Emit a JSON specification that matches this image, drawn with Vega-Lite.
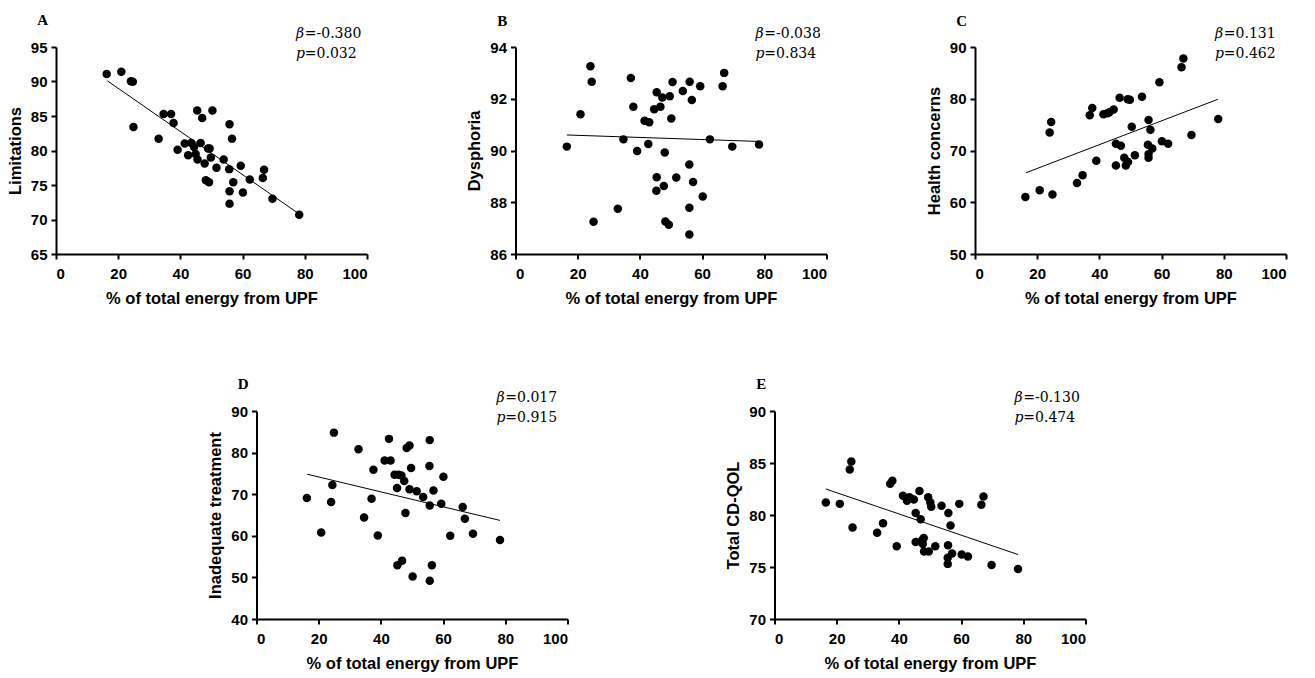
{
  "$schema": "https://vega.github.io/schema/vega-lite/v6.json",
  "padding": {"left": 7, "top": 13, "right": 5, "bottom": 5},
  "background": "white",
  "config": {
    "view": {"stroke": null},
    "axis": {"grid": false, "domainColor": "black", "domainWidth": 2, "tickColor": "black", "tickWidth": 2, "tickSize": 5, "labelOverlap": false, "format": "d",
      "labelFont": "Liberation Sans", "labelFontWeight": "bold", "labelFontSize": 15, "labelColor": "black",
      "titleFont": "Liberation Sans", "titleFontWeight": "bold", "titleFontSize": 16.5, "titleColor": "black"},
    "axisX": {"labelPadding": 7, "titlePadding": 9},
    "axisY": {"labelPadding": 4, "titlePadding": 7},
    "text": {"color": "black"}
  },
  "datasets": {
    "A": [{"x":16.3,"y":91.1},{"x":21.0,"y":91.4},{"x":24.1,"y":90.05},{"x":24.7,"y":89.95},{"x":24.9,"y":83.4},{"x":33.0,"y":81.7},{"x":34.6,"y":85.3},{"x":37.0,"y":85.3},{"x":37.8,"y":84.0},{"x":39.1,"y":80.1},{"x":41.4,"y":81.0},{"x":42.5,"y":79.3},{"x":43.5,"y":81.1},{"x":44.4,"y":80.5},{"x":44.9,"y":79.5},{"x":45.4,"y":85.8},{"x":45.5,"y":78.7},{"x":46.5,"y":81.1},{"x":47.0,"y":84.7},{"x":47.8,"y":78.1},{"x":48.2,"y":75.7},{"x":48.9,"y":80.3},{"x":49.2,"y":75.4},{"x":49.4,"y":80.3},{"x":49.8,"y":79.0},{"x":50.3,"y":85.8},{"x":51.6,"y":77.5},{"x":53.9,"y":78.7},{"x":55.7,"y":77.3},{"x":55.8,"y":83.8},{"x":55.8,"y":74.1},{"x":55.8,"y":72.3},{"x":56.6,"y":81.7},{"x":57.0,"y":75.4},{"x":59.4,"y":77.8},{"x":60.1,"y":73.9},{"x":62.3,"y":75.8},{"x":66.5,"y":76.0},{"x":66.9,"y":77.2},{"x":69.6,"y":73.0},{"x":78.2,"y":70.7}],
    "B": [{"x":16.5,"y":90.15},{"x":20.9,"y":91.4},{"x":24.1,"y":93.26},{"x":24.5,"y":92.66},{"x":25.1,"y":87.25},{"x":32.9,"y":87.75},{"x":34.7,"y":90.43},{"x":37.1,"y":92.8},{"x":37.9,"y":91.69},{"x":39.1,"y":89.98},{"x":41.5,"y":91.15},{"x":43.0,"y":91.09},{"x":42.7,"y":90.25},{"x":44.6,"y":91.59},{"x":45.4,"y":92.25},{"x":45.4,"y":88.97},{"x":45.3,"y":88.44},{"x":46.6,"y":91.69},{"x":47.2,"y":92.05},{"x":48.0,"y":89.92},{"x":47.7,"y":88.63},{"x":48.2,"y":87.26},{"x":49.3,"y":87.13},{"x":49.6,"y":92.1},{"x":50.1,"y":91.24},{"x":50.5,"y":92.65},{"x":51.7,"y":88.96},{"x":53.8,"y":92.3},{"x":56.0,"y":92.66},{"x":56.7,"y":91.95},{"x":55.9,"y":89.46},{"x":57.1,"y":88.78},{"x":55.9,"y":87.79},{"x":55.9,"y":86.75},{"x":59.4,"y":92.48},{"x":60.2,"y":88.22},{"x":62.5,"y":90.43},{"x":66.6,"y":92.48},{"x":67.1,"y":93.0},{"x":69.7,"y":90.15},{"x":78.3,"y":90.23}],
    "C": [{"x":16.2,"y":61.0},{"x":20.8,"y":62.3},{"x":24.0,"y":73.5},{"x":24.5,"y":75.5},{"x":24.9,"y":61.5},{"x":32.8,"y":63.7},{"x":34.6,"y":65.2},{"x":36.9,"y":76.8},{"x":37.7,"y":78.2},{"x":39.0,"y":68.0},{"x":41.3,"y":77.0},{"x":42.6,"y":77.2},{"x":43.2,"y":77.4},{"x":44.6,"y":77.9},{"x":45.3,"y":71.3},{"x":45.3,"y":67.1},{"x":46.5,"y":80.2},{"x":46.9,"y":70.9},{"x":48.0,"y":68.6},{"x":48.5,"y":67.1},{"x":49.2,"y":67.8},{"x":49.1,"y":79.9},{"x":49.8,"y":79.8},{"x":50.4,"y":74.6},{"x":51.4,"y":69.1},{"x":53.7,"y":80.4},{"x":55.8,"y":75.9},{"x":56.4,"y":74.0},{"x":55.6,"y":71.1},{"x":55.8,"y":69.3},{"x":55.8,"y":68.6},{"x":57.0,"y":70.4},{"x":59.3,"y":83.2},{"x":60.1,"y":71.8},{"x":62.1,"y":71.3},{"x":66.4,"y":86.1},{"x":67.0,"y":87.8},{"x":69.6,"y":73.0},{"x":78.2,"y":76.1}],
    "D": [{"x":16.2,"y":69.1},{"x":20.8,"y":60.8},{"x":24.0,"y":68.1},{"x":24.4,"y":72.2},{"x":24.9,"y":84.8},{"x":32.8,"y":80.8},{"x":34.6,"y":64.4},{"x":37.0,"y":68.9},{"x":37.6,"y":75.9},{"x":39.0,"y":60.1},{"x":41.2,"y":78.1},{"x":42.6,"y":83.3},{"x":43.1,"y":78.1},{"x":44.4,"y":74.7},{"x":45.2,"y":71.5},{"x":45.3,"y":52.9},{"x":45.7,"y":74.7},{"x":46.6,"y":74.5},{"x":46.8,"y":54.0},{"x":47.5,"y":73.2},{"x":47.9,"y":65.5},{"x":48.3,"y":81.1},{"x":49.2,"y":81.7},{"x":49.2,"y":71.2},{"x":49.7,"y":76.3},{"x":50.2,"y":50.2},{"x":51.5,"y":70.7},{"x":53.6,"y":69.3},{"x":55.7,"y":83.0},{"x":55.6,"y":76.8},{"x":55.7,"y":67.3},{"x":55.7,"y":49.2},{"x":56.4,"y":52.9},{"x":56.9,"y":70.9},{"x":59.4,"y":67.7},{"x":60.1,"y":74.2},{"x":62.3,"y":60.0},{"x":66.3,"y":66.9},{"x":67.0,"y":64.1},{"x":69.6,"y":60.5},{"x":78.3,"y":59.0}],
    "E": [{"x":16.5,"y":81.2},{"x":21.0,"y":81.07},{"x":24.2,"y":84.37},{"x":24.7,"y":85.14},{"x":25.1,"y":78.8},{"x":33.0,"y":78.3},{"x":34.9,"y":79.2},{"x":37.2,"y":83.0},{"x":37.9,"y":83.3},{"x":39.3,"y":77.0},{"x":41.3,"y":81.84},{"x":42.6,"y":81.36},{"x":43.4,"y":81.7},{"x":44.8,"y":81.5},{"x":45.4,"y":80.2},{"x":45.4,"y":77.4},{"x":46.6,"y":82.3},{"x":47.0,"y":79.6},{"x":47.5,"y":77.6},{"x":48.0,"y":77.8},{"x":47.7,"y":77.2},{"x":48.1,"y":76.5},{"x":49.4,"y":81.7},{"x":49.6,"y":76.5},{"x":50.1,"y":81.2},{"x":50.4,"y":80.8},{"x":51.7,"y":77.0},{"x":53.7,"y":80.9},{"x":55.9,"y":80.2},{"x":55.8,"y":77.1},{"x":55.7,"y":75.9},{"x":55.7,"y":75.3},{"x":56.6,"y":79.0},{"x":57.1,"y":76.3},{"x":59.4,"y":81.07},{"x":60.2,"y":76.2},{"x":62.2,"y":76.0},{"x":66.5,"y":80.98},{"x":67.2,"y":81.78},{"x":69.8,"y":75.2},{"x":78.3,"y":74.8}],
    "lineA": [{"x":16.5,"y":90.1},{"x":78.2,"y":70.8}],
    "lineB": [{"x":16.5,"y":90.6},{"x":78.2,"y":90.35}],
    "lineC": [{"x":16.4,"y":65.7},{"x":78.1,"y":79.9}],
    "lineD": [{"x":16.3,"y":74.8},{"x":78.3,"y":63.7}],
    "lineE": [{"x":16.5,"y":82.5},{"x":78.3,"y":76.2}]
  },
  "vconcat": [
    {
      "hconcat": [
        {
          "width": 311, "height": 207,
          "layer": [
            {"data": {"name": "A"}, "mark": {"type": "circle", "size": 72, "color": "black", "opacity": 1},
             "encoding": {
               "x": {"field": "x", "type": "quantitative", "scale": {"domain": [0, 100], "nice": false}, "axis": {"values": [0,20,40,60,80,100], "tickCount": 12, "format": "d", "title": "% of total energy from UPF"}},
               "y": {"field": "y", "type": "quantitative", "scale": {"domain": [65, 95], "nice": false, "zero": false}, "axis": {"values": [65,70,75,80,85,90,95], "tickCount": 12, "format": "d", "title": "Limitations"}}}},
            {"data": {"name": "lineA"}, "mark": {"type": "line", "color": "black", "strokeWidth": 1},
             "encoding": {"x": {"field": "x", "type": "quantitative"}, "y": {"field": "y", "type": "quantitative"}}},
            {"data": {"values": [{}]}, "mark": {"type": "text", "text": "A", "font": "Liberation Serif", "fontWeight": "bold", "fontSize": 15, "align": "center", "baseline": "alphabetic"},
             "encoding": {"x": {"datum": -4.3}, "y": {"datum": 98.12}}},
            {"data": {"values": [{}]}, "mark": {"type": "text", "text": ["β", "p"], "font": "DejaVu Serif", "fontStyle": "italic", "fontSize": 14, "lineHeight": 20, "align": "left", "baseline": "alphabetic"},
             "encoding": {"x": {"datum": 77.2}, "y": {"datum": 96.36}}},
            {"data": {"values": [{}]}, "mark": {"type": "text", "text": ["=-0.380", "=0.032"], "font": "DejaVu Serif", "fontSize": 14, "lineHeight": 20, "align": "left", "baseline": "alphabetic"},
             "encoding": {"x": {"datum": 80.0}, "y": {"datum": 96.36}}}
          ]
        },
        {
          "width": 311, "height": 207,
          "layer": [
            {"data": {"name": "B"}, "mark": {"type": "circle", "size": 72, "color": "black", "opacity": 1},
             "encoding": {
               "x": {"field": "x", "type": "quantitative", "scale": {"domain": [0, 100], "nice": false}, "axis": {"values": [0,20,40,60,80,100], "tickCount": 12, "format": "d", "title": "% of total energy from UPF"}},
               "y": {"field": "y", "type": "quantitative", "scale": {"domain": [86, 94], "nice": false, "zero": false}, "axis": {"values": [86,88,90,92,94], "tickCount": 12, "format": "d", "title": "Dysphoria"}}}},
            {"data": {"name": "lineB"}, "mark": {"type": "line", "color": "black", "strokeWidth": 1},
             "encoding": {"x": {"field": "x", "type": "quantitative"}, "y": {"field": "y", "type": "quantitative"}}},
            {"data": {"values": [{}]}, "mark": {"type": "text", "text": "B", "font": "Liberation Serif", "fontWeight": "bold", "fontSize": 15, "align": "center", "baseline": "alphabetic"},
             "encoding": {"x": {"datum": -4.3}, "y": {"datum": 94.83}}},
            {"data": {"values": [{}]}, "mark": {"type": "text", "text": ["β", "p"], "font": "DejaVu Serif", "fontStyle": "italic", "fontSize": 14, "lineHeight": 20, "align": "left", "baseline": "alphabetic"},
             "encoding": {"x": {"datum": 77.2}, "y": {"datum": 94.363}}},
            {"data": {"values": [{}]}, "mark": {"type": "text", "text": ["=-0.038", "=0.834"], "font": "DejaVu Serif", "fontSize": 14, "lineHeight": 20, "align": "left", "baseline": "alphabetic"},
             "encoding": {"x": {"datum": 80.0}, "y": {"datum": 94.363}}}
          ]
        },
        {
          "width": 311, "height": 207,
          "layer": [
            {"data": {"name": "C"}, "mark": {"type": "circle", "size": 72, "color": "black", "opacity": 1},
             "encoding": {
               "x": {"field": "x", "type": "quantitative", "scale": {"domain": [0, 100], "nice": false}, "axis": {"values": [0,20,40,60,80,100], "tickCount": 12, "format": "d", "title": "% of total energy from UPF"}},
               "y": {"field": "y", "type": "quantitative", "scale": {"domain": [50, 90], "nice": false, "zero": false}, "axis": {"values": [50,60,70,80,90], "tickCount": 12, "format": "d", "title": "Health concerns"}}}},
            {"data": {"name": "lineC"}, "mark": {"type": "line", "color": "black", "strokeWidth": 1},
             "encoding": {"x": {"field": "x", "type": "quantitative"}, "y": {"field": "y", "type": "quantitative"}}},
            {"data": {"values": [{}]}, "mark": {"type": "text", "text": "C", "font": "Liberation Serif", "fontWeight": "bold", "fontSize": 15, "align": "center", "baseline": "alphabetic"},
             "encoding": {"x": {"datum": -4.3}, "y": {"datum": 94.15}}},
            {"data": {"values": [{}]}, "mark": {"type": "text", "text": ["β", "p"], "font": "DejaVu Serif", "fontStyle": "italic", "fontSize": 14, "lineHeight": 20, "align": "left", "baseline": "alphabetic"},
             "encoding": {"x": {"datum": 77.2}, "y": {"datum": 91.82}}},
            {"data": {"values": [{}]}, "mark": {"type": "text", "text": ["=0.131", "=0.462"], "font": "DejaVu Serif", "fontSize": 14, "lineHeight": 20, "align": "left", "baseline": "alphabetic"},
             "encoding": {"x": {"datum": 80.0}, "y": {"datum": 91.82}}}
          ]
        }
      ],
      "spacing": 148.5,
      "bounds": "flush"
    },
    {
      "hconcat": [
        {
          "width": 311, "height": 208,
          "layer": [
            {"data": {"name": "D"}, "mark": {"type": "circle", "size": 72, "color": "black", "opacity": 1},
             "encoding": {
               "x": {"field": "x", "type": "quantitative", "scale": {"domain": [0, 100], "nice": false}, "axis": {"values": [0,20,40,60,80,100], "tickCount": 12, "format": "d", "title": "% of total energy from UPF"}},
               "y": {"field": "y", "type": "quantitative", "scale": {"domain": [40, 90], "nice": false, "zero": false}, "axis": {"values": [40,50,60,70,80,90], "tickCount": 12, "format": "d", "title": "Inadequate treatment"}}}},
            {"data": {"name": "lineD"}, "mark": {"type": "line", "color": "black", "strokeWidth": 1},
             "encoding": {"x": {"field": "x", "type": "quantitative"}, "y": {"field": "y", "type": "quantitative"}}},
            {"data": {"values": [{}]}, "mark": {"type": "text", "text": "D", "font": "Liberation Serif", "fontWeight": "bold", "fontSize": 15, "align": "center", "baseline": "alphabetic"},
             "encoding": {"x": {"datum": -4.3}, "y": {"datum": 95.19}}},
            {"data": {"values": [{}]}, "mark": {"type": "text", "text": ["β", "p"], "font": "DejaVu Serif", "fontStyle": "italic", "fontSize": 14, "lineHeight": 20, "align": "left", "baseline": "alphabetic"},
             "encoding": {"x": {"datum": 77.2}, "y": {"datum": 92.27}}},
            {"data": {"values": [{}]}, "mark": {"type": "text", "text": ["=0.017", "=0.915"], "font": "DejaVu Serif", "fontSize": 14, "lineHeight": 20, "align": "left", "baseline": "alphabetic"},
             "encoding": {"x": {"datum": 80.0}, "y": {"datum": 92.27}}}
          ]
        },
        {
          "width": 311, "height": 208,
          "layer": [
            {"data": {"name": "E"}, "mark": {"type": "circle", "size": 72, "color": "black", "opacity": 1},
             "encoding": {
               "x": {"field": "x", "type": "quantitative", "scale": {"domain": [0, 100], "nice": false}, "axis": {"values": [0,20,40,60,80,100], "tickCount": 12, "format": "d", "title": "% of total energy from UPF"}},
               "y": {"field": "y", "type": "quantitative", "scale": {"domain": [70, 90], "nice": false, "zero": false}, "axis": {"values": [70,75,80,85,90], "tickCount": 12, "format": "d", "title": "Total CD-QOL"}}}},
            {"data": {"name": "lineE"}, "mark": {"type": "line", "color": "black", "strokeWidth": 1},
             "encoding": {"x": {"field": "x", "type": "quantitative"}, "y": {"field": "y", "type": "quantitative"}}},
            {"data": {"values": [{}]}, "mark": {"type": "text", "text": "E", "font": "Liberation Serif", "fontWeight": "bold", "fontSize": 15, "align": "center", "baseline": "alphabetic"},
             "encoding": {"x": {"datum": -4.3}, "y": {"datum": 92.08}}},
            {"data": {"values": [{}]}, "mark": {"type": "text", "text": ["β", "p"], "font": "DejaVu Serif", "fontStyle": "italic", "fontSize": 14, "lineHeight": 20, "align": "left", "baseline": "alphabetic"},
             "encoding": {"x": {"datum": 77.2}, "y": {"datum": 90.91}}},
            {"data": {"values": [{}]}, "mark": {"type": "text", "text": ["=-0.130", "=0.474"], "font": "DejaVu Serif", "fontSize": 14, "lineHeight": 20, "align": "left", "baseline": "alphabetic"},
             "encoding": {"x": {"datum": 80.0}, "y": {"datum": 90.91}}}
          ]
        }
      ],
      "spacing": 207,
      "bounds": "flush"
    }
  ],
  "spacing": 70,
  "center": true
}
